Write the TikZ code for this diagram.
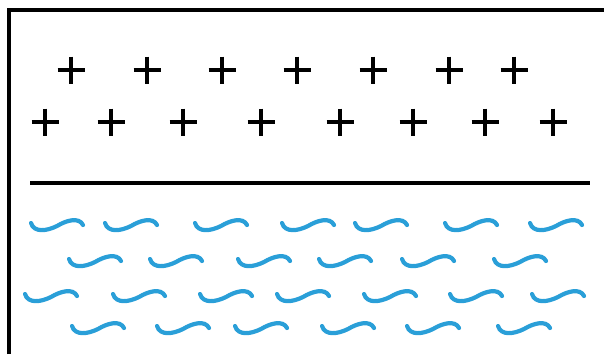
\documentclass[tikz,border=0pt]{standalone}
\usepackage{xcolor}
\usepackage{tikz}
\definecolor{rippleBlue}{HTML}{2A9FD8}
\tikzset{
    ripple/.pic={
        \draw[rippleBlue, line width=4.2pt, line cap=round]
            (-26,-3) .. controls (-23,7) and (-10,5) .. (0,0)
                     .. controls (10,-6) and (22,-9) .. (26,-1);
    },
    plussign/.pic={
        \draw[line width=3.8pt] (-13.5,0) -- (13.5,0) (0,-13.5) -- (0,13.5);
    }
}

\begin{document}
\begin{tikzpicture}[x=1pt, y=-1pt]
    \useasboundingbox (0,0) rectangle (604,354);

    \draw[line width=4pt] (9,354) -- (9,10) -- (604,10);

    \foreach \x in {71,147,222,297,373,449,514}
        \pic at (\x,70) {plussign};
    \foreach \x in {45,111,183,261,340,413,485,553}
        \pic at (\x,122) {plussign};

    \draw[line width=4pt] (30,183) -- (590,183);

    \foreach \x in {57,131,221,308,381,471,556}
        \pic at (\x,226) {ripple};
    \foreach \x in {95,176,264,345,428,520}
        \pic at (\x,262) {ripple};
    \foreach \x in {51,139,226,303,390,476,558}
        \pic at (\x,297) {ripple};
    \foreach \x in {98,183,261,348,433,524}
        \pic at (\x,329) {ripple};
\end{tikzpicture}
\end{document}
